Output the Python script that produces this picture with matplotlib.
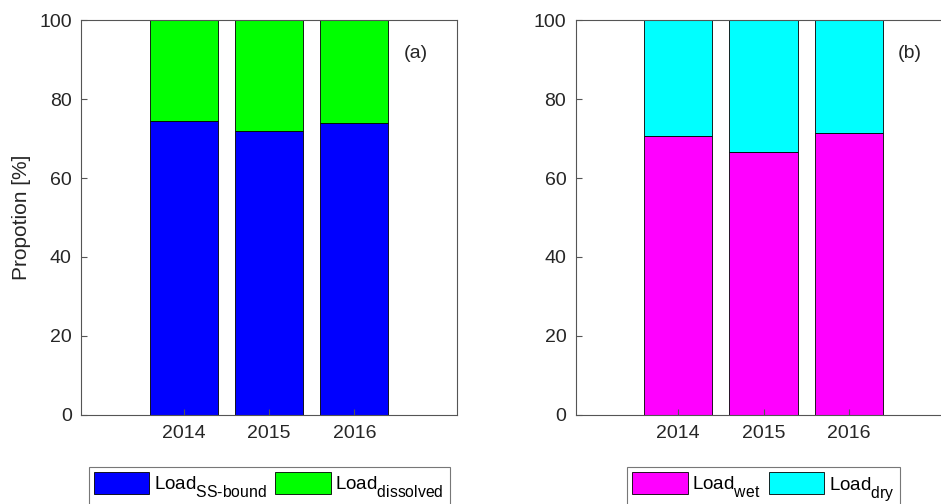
"""Stacked proportion bars: load partitioning per year, panels (a) and (b)."""

import matplotlib.pyplot as plt
import matplotlib._mathtext as mathtext_impl

plt.rcParams["font.family"] = ["Liberation Sans", "DejaVu Sans"]
plt.rcParams["mathtext.fontset"] = "custom"
plt.rcParams["mathtext.rm"] = "Liberation Sans"
plt.rcParams["font.size"] = 14
# legend subscripts in the original are nearly full size and drop lower
mathtext_impl.SHRINK_FACTOR = 0.84
mathtext_impl.FontConstantsBase.subdrop = 0.75
mathtext_impl.FontConstantsBase.sub1 = 0.75

years = [2014, 2015, 2016]
ss_bound = [74.4, 71.9, 74.0]
dissolved = [100 - v for v in ss_bound]
wet = [70.7, 66.7, 71.3]
dry = [100 - v for v in wet]

TXT = "#262626"


def stacked(ax, bottom_vals, top_vals, colors, labels, tag):
    ax.bar(years, bottom_vals, width=0.8, color=colors[0],
           edgecolor="black", linewidth=0.6, label=labels[0])
    ax.bar(years, top_vals, width=0.8, bottom=bottom_vals, color=colors[1],
           edgecolor="black", linewidth=0.6, label=labels[1])
    ax.set_xlim(2012.8, 2017.2)
    ax.set_ylim(0, 100)
    ax.set_xticks(years)
    ax.set_yticks(range(0, 101, 20))
    ax.tick_params(direction="in", length=4, colors="#555555",
                   labelcolor=TXT, labelsize=14)
    ax.tick_params(axis="x", pad=7)
    ax.tick_params(axis="y", pad=7)
    for s in ax.spines.values():
        s.set_color("#555555")
        s.set_linewidth(0.8)
    ax.text(2016.72, 91.5, tag, ha="center", va="center", fontsize=14,
            color=TXT)
    leg = ax.legend(loc="upper center", bbox_to_anchor=(0.5, -0.131), ncol=2,
                    frameon=True, fancybox=False, edgecolor="#555555",
                    handlelength=2.95, handleheight=1.4, handletextpad=0.25,
                    columnspacing=0.45, borderpad=0.3, borderaxespad=0,
                    fontsize=13.5)
    leg.get_frame().set_linewidth(0.8)
    for t in leg.get_texts():
        t.set_color("black")


fig = plt.figure(figsize=(9.41, 5.04), dpi=100)
ax1 = fig.add_axes([0.0866, 0.1766, 0.3987, 0.7837])
ax2 = fig.add_axes([0.6121, 0.1766, 0.3987, 0.7837])

stacked(ax1, ss_bound, dissolved, ["#0000ff", "#00ff00"],
        [r"Load$_{\text{SS-bound}}$", r"Load$_{\text{dissolved}}$"], "(a)")
stacked(ax2, wet, dry, ["#ff00ff", "#00ffff"],
        [r"Load$_{\text{wet}}$", r"Load$_{\text{dry}}$"], "(b)")

ax1.set_ylabel("Propotion [%]", fontsize=15, color=TXT, labelpad=6)

fig.savefig("out.png", dpi=100)
